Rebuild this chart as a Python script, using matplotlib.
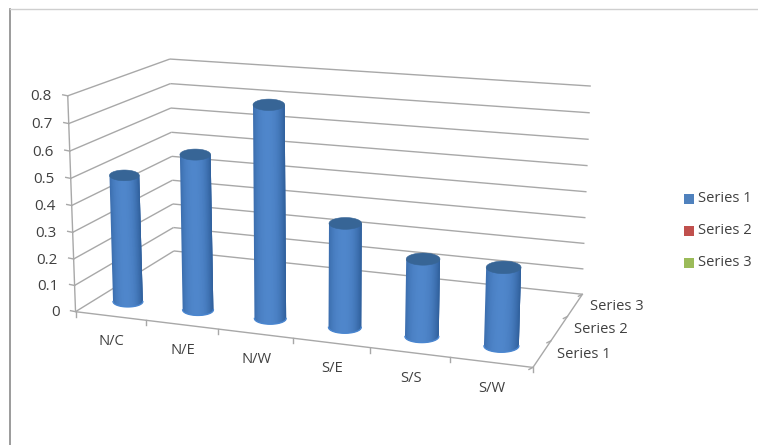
import numpy as np
import matplotlib
matplotlib.use("Agg")
import matplotlib.pyplot as plt
from matplotlib.patches import Polygon, Rectangle

categories = ["N/C", "N/E", "N/W", "S/E", "S/S", "S/W"]
series_names = ["Series 1", "Series 2", "Series 3"]
series_1 = [0.48, 0.58, 0.78, 0.38, 0.28, 0.28]
value_ticks = [0, 0.1, 0.2, 0.3, 0.4, 0.5, 0.6, 0.7, 0.8]
legend_colors = ["#4F81BD", "#C0504D", "#9BBB59"]

plt.rcParams["font.family"] = ["Open Sans", "DejaVu Sans"]
TEXT = "#404040"
GRID = "#a8a8a8"

# box corners as (category, depth, value) -> screen pixel
box_pts = [
    ((0, 0, 0), (77, 310)), ((0, 0, 0.8), (66, 94)),
    ((0, 3, 0), (172, 253)), ((0, 3, 0.8), (172, 60)),
    ((6, 3, 0), (583, 293)), ((6, 3, 0.8), (590, 84)),
    ((6, 0, 0), (533, 368)), ((6, 0, 0.8), (541, 134)),
]


def fit_camera(pts):
    rows = []
    for (x, d, v), (px, py) in pts:
        rows.append([x, d, v, 1, 0, 0, 0, 0, -px * x, -px * d, -px * v, -px])
        rows.append([0, 0, 0, 0, x, d, v, 1, -py * x, -py * d, -py * v, -py])
    return np.linalg.svd(np.array(rows, float))[2][-1].reshape(3, 4)


cam = fit_camera(box_pts)


def project(x, d, v):
    p = cam @ np.array([x, d, v, 1.0])
    return p[:2] / p[2]


def seg(ax, a, b, lw=1.0, color=GRID):
    pa, pb = project(*a), project(*b)
    ax.plot([pa[0], pb[0]], [pa[1], pb[1]], color=color, lw=lw, solid_capstyle="butt", zorder=1)


def shade(t):
    # dark at both sides of the cylinder, brightest a bit left of centre
    base_dark = np.array([0x2f, 0x5f, 0x9b]) / 255
    base_light = np.array([0x4f, 0x86, 0xcb]) / 255
    k = np.clip(1 - abs((t + 0.1) / 1.1) ** 2.4, 0, 1)
    return base_dark + (base_light - base_dark) * k


def cylinder(ax, x, d, value, radius=0.215, squash=0.36, lift=3):
    bottom = project(x, d, 0) - [0, lift]
    top = project(x, d, value) - [0, lift]
    rx = abs(project(x + radius, d, 0)[0] - bottom[0])
    ry = rx * squash
    ts = np.linspace(-1, 1, 41)
    step = ts[1] - ts[0]

    # each band runs over the next two so the gaps between them stay covered
    for t0 in ts[:-1]:
        t1 = min(t0 + 3 * step, 1.0)
        arc = np.linspace(t1, t0, 6)
        outline = [(top[0] + t0 * rx, top[1]), (top[0] + t1 * rx, top[1])]
        outline += [(bottom[0] + t * rx, bottom[1] + ry * np.sqrt(max(1 - t ** 2, 0))) for t in arc]
        c = shade(t0 + step / 2)
        ax.add_patch(Polygon(outline, closed=True, fc=c, ec="none", zorder=3))
    th = np.linspace(0, np.pi, 40)
    rim = [(bottom[0] + rx * np.cos(a), bottom[1] + ry * np.sin(a)) for a in th]
    ax.plot(*zip(*rim), color="#4a86d0", lw=1.0, zorder=4)
    th = np.linspace(0, 2 * np.pi, 60)
    cap = [(top[0] + rx * np.cos(a), top[1] + ry * np.sin(a)) for a in th]
    ax.add_patch(Polygon(cap, closed=True, fc="#376596", ec="#376596", lw=0.4, zorder=5))


fig = plt.figure(figsize=(7.58, 4.45), dpi=100)
ax = fig.add_axes([0, 0, 1, 1])
ax.set_xlim(0, 758)
ax.set_ylim(445, 0)
ax.axis("off")

# outer chart frame
ax.plot([9.7, 9.7], [445, 9], color="#8a8a8a", lw=1.2, zorder=1)
ax.plot([9.7, 758], [9.4, 9.4], color="#cfcfcf", lw=1.0, zorder=1)

n = len(categories)
depth = len(series_names)

# walls and floor
for v in value_ticks:
    seg(ax, (0, 0, v), (0, depth, v))
    seg(ax, (0, depth, v), (n, depth, v))
seg(ax, (0, 0, 0), (0, 0, 0.8))
seg(ax, (0, 0, 0), (n, 0, 0))
seg(ax, (n, 0, 0), (n, depth, 0))

# axis ticks
for v in value_ticks:
    p = project(0, 0, v)
    ax.plot([p[0] - 5, p[0]], [p[1] - 1, p[1]], color=GRID, lw=1.0, zorder=1)
    ax.text(p[0] - 16, p[1] + 1, f"{v:g}", ha="right", va="center", fontsize=11, color=TEXT)
for i in range(n + 1):
    p = project(i, 0, 0)
    ax.plot([p[0], p[0]], [p[1], p[1] + 5], color=GRID, lw=1.0, zorder=1)
for i in range(depth + 1):
    p = project(n, i, 0)
    ax.plot([p[0], p[0] - 4], [p[1], p[1] + 2], color=GRID, lw=1.0, zorder=1)

for i, name in enumerate(categories):
    p = project(i + 0.5, 0, 0)
    ax.text(p[0] + 1, p[1] + 26, name, ha="center", va="center", fontsize=10.6, color=TEXT)
for i, name in enumerate(series_names):
    p = project(n, i + 0.5, 0)
    ax.text(p[0] + 15, p[1] + 1, name, ha="left", va="center", fontsize=10.6, color=TEXT)

for i, val in enumerate(series_1):
    cylinder(ax, i + 0.5, 0.5, val)

# legend
for i, (name, col) in enumerate(zip(series_names, legend_colors)):
    y = 198.5 + i * 32
    ax.add_patch(Rectangle((684, y - 5), 10, 10, fc=col, ec="none", zorder=2))
    ax.text(698, y, name, ha="left", va="center", fontsize=10.6, color=TEXT)

fig.savefig("out.png", dpi=100)
